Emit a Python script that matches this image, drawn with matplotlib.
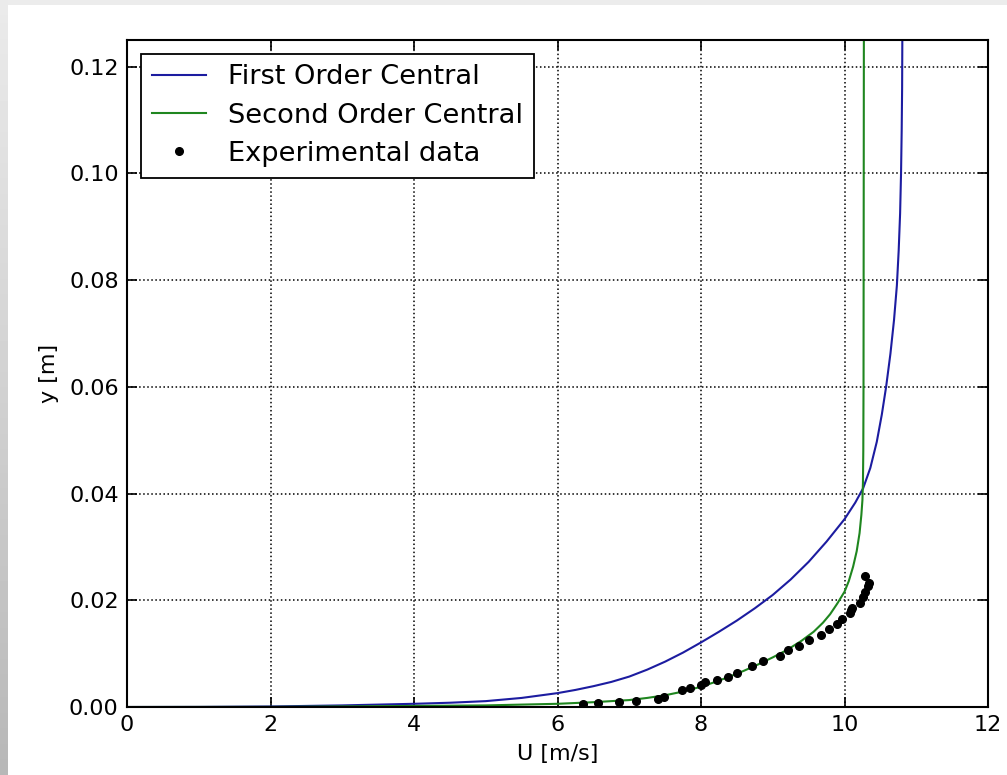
import numpy as np
import matplotlib
matplotlib.use("Agg")
import matplotlib.pyplot as plt

# First order central scheme profile (U [m/s], y [m])
u_first = [0.0, 1.0, 2.0, 3.0, 4.0, 4.5, 5.0, 5.5, 6.0, 6.25, 6.5, 6.75,
           7.0, 7.25, 7.5, 7.75, 8.0, 8.25, 8.5, 8.75, 9.0, 9.25, 9.5, 9.75,
           10.0, 10.15, 10.26, 10.36, 10.45, 10.52, 10.58, 10.64, 10.69,
           10.73, 10.755, 10.775, 10.788, 10.797, 10.803, 10.806]
y_first = [0.0, 0.00002, 0.0001, 0.0003, 0.0006, 0.0008, 0.0011, 0.0017,
           0.0026, 0.0032, 0.0039, 0.0047, 0.0057, 0.0070, 0.0085, 0.0102,
           0.0121, 0.0141, 0.0162, 0.0185, 0.0210, 0.0239, 0.0272, 0.0310,
           0.0352, 0.0383, 0.0410, 0.0448, 0.0497, 0.0548, 0.0600, 0.0662,
           0.0725, 0.0790, 0.0855, 0.0925, 0.1000, 0.1080, 0.1160, 0.1250]

# Second order central scheme profile
u_second = [0.0, 2.0, 4.0, 5.0, 6.0, 6.5, 7.0, 7.25, 7.5, 7.75, 8.0, 8.2,
            8.4, 8.6, 8.8, 9.0, 9.2, 9.4, 9.57, 9.7, 9.8, 9.9, 10.0, 10.06,
            10.12, 10.17, 10.21, 10.235, 10.25, 10.257, 10.262, 10.265, 10.27]
y_second = [0.0, 0.00002, 0.0002, 0.0003, 0.0006, 0.0009, 0.0013, 0.0017,
            0.0022, 0.0029, 0.0038, 0.0047, 0.0057, 0.0068, 0.0080, 0.0093,
            0.0107, 0.0124, 0.0141, 0.0158, 0.0174, 0.0194, 0.0216, 0.0236,
            0.0263, 0.0292, 0.0326, 0.0360, 0.0388, 0.0420, 0.0480, 0.0600,
            0.1250]

# Experimental data
u_exp = [6.35, 6.57, 6.86, 7.10, 7.40, 7.49, 7.73, 7.84, 8.00, 8.05, 8.22,
         8.37, 8.50, 8.71, 8.87, 9.10, 9.21, 9.37, 9.50, 9.67, 9.78, 9.89,
         9.97, 10.07, 10.09, 10.11, 10.22, 10.26, 10.29, 10.33, 10.34, 10.28]
y_exp = [0.0006, 0.0008, 0.0009, 0.0011, 0.0015, 0.0019, 0.0031, 0.0036,
         0.0041, 0.0046, 0.0051, 0.0057, 0.0064, 0.0076, 0.0086, 0.0096,
         0.0106, 0.0115, 0.0126, 0.0135, 0.0146, 0.0156, 0.0165, 0.0176,
         0.0181, 0.0186, 0.0195, 0.0207, 0.0216, 0.0226, 0.0232, 0.0246]

x_ticks = [0, 2, 4, 6, 8, 10, 12]
y_ticks = [0.00, 0.02, 0.04, 0.06, 0.08, 0.10, 0.12]

plt.rcParams['font.family'] = ['DejaVu Sans']
plt.rcParams['font.size'] = 16

fig = plt.figure(figsize=(10.07, 7.75), dpi=100)
fig.patch.set_facecolor('white')

# slide-like gray border (top band and left gradient strip)
top = fig.add_axes([0, 1 - 5 / 775, 1, 5 / 775])
top.set_axis_off()
top.add_patch(plt.Rectangle((0, 0), 1, 1, color='#ececec', transform=top.transAxes))
strip = fig.add_axes([0, 0, 8 / 1007, 1])
grad = np.linspace(0.92, 0.72, 100).reshape(-1, 1)
strip.imshow(grad, cmap='gray', vmin=0, vmax=1, aspect='auto')
strip.set_axis_off()

ax = fig.add_axes([127 / 1007, 68 / 775, 861 / 1007, 667 / 775])
ax.plot(u_first, y_first, color='#1c1ca0', lw=1.5, label='First Order Central')
ax.plot(u_second, y_second, color='#1f861f', lw=1.5, label='Second Order Central')
ax.plot(u_exp, y_exp, 'k.', ms=11, label='Experimental data')

ax.set_xlim(0, 12)
ax.set_ylim(0, 0.125)
ax.set_xticks(x_ticks)
ax.set_yticks(y_ticks)
ax.set_yticklabels(['%.2f' % v for v in y_ticks])
ax.tick_params(direction='in', top=True, right=True, length=7, width=1.2,
               labelsize=16, pad=6)
ax.grid(True, color='black', linestyle=':', linewidth=1.1)
for s in ax.spines.values():
    s.set_linewidth(1.5)

ax.set_xlabel('U [m/s]', fontsize=16, labelpad=6)
ax.set_ylabel('y [m]', fontsize=16, labelpad=7)

leg = ax.legend(loc='upper left', numpoints=1, fontsize=19.6, fancybox=False,
                labelspacing=0.45, borderpad=0.4)
leg.get_frame().set_edgecolor('black')
leg.get_frame().set_linewidth(1.3)
leg.get_frame().set_alpha(1)

fig.savefig('out.png', dpi=100)
